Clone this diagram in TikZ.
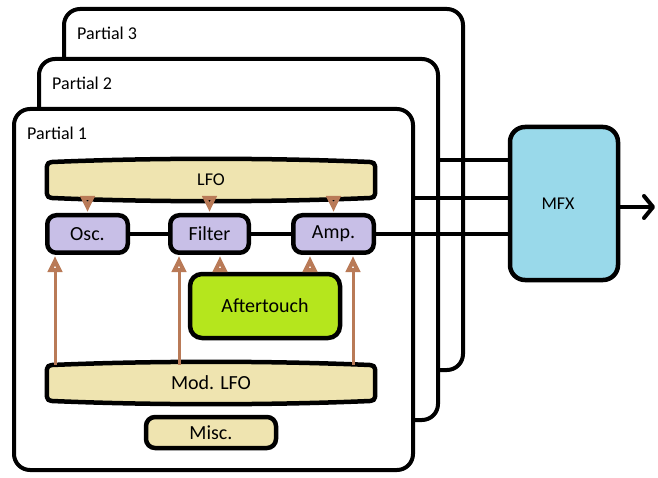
\documentclass[tikz,border=0pt]{standalone}
\usepackage{fontspec}
\setmainfont{Carlito}
\usetikzlibrary{arrows.meta,calc}
\definecolor{tanfill}{HTML}{EFE4B0}
\definecolor{lav}{HTML}{C8BFE7}
\definecolor{limefill}{HTML}{B5E61D}
\definecolor{bluefill}{HTML}{99D9EA}
\definecolor{brn}{HTML}{B97A57}
\pgfdeclarelayer{back}\pgfdeclarelayer{mid}\pgfsetlayers{back,mid,main}
\newcommand\barrelshape[1]{%
  \filldraw[barrelsty]
    ($(#1.north west)+(0,8)$) .. controls ($(#1.north west)+(0,1)$) and ($(#1.north west)+(1,0)$) .. ($(#1.north west)+(10,0)$)
    .. controls ($(#1.north west)!0.33!(#1.north east)+(0,-4)$) and ($(#1.north west)!0.67!(#1.north east)+(0,-4)$) .. ($(#1.north east)+(-10,0)$)
    .. controls ($(#1.north east)+(-1,0)$) and ($(#1.north east)+(0,1)$) .. ($(#1.north east)+(0,8)$)
    -- ($(#1.south east)+(0,-8)$)
    .. controls ($(#1.south east)+(0,-1)$) and ($(#1.south east)+(-1,0)$) .. ($(#1.south east)+(-10,0)$)
    .. controls ($(#1.south west)!0.67!(#1.south east)+(0,4)$) and ($(#1.south west)!0.33!(#1.south east)+(0,4)$) .. ($(#1.south west)+(10,0)$)
    .. controls ($(#1.south west)+(1,0)$) and ($(#1.south west)+(0,-1)$) .. ($(#1.south west)+(0,-8)$)
    -- cycle;}
\tikzset{
  partial/.style={draw, line width=4pt, rounded corners=16pt, fill=white, inner sep=0},
  plabel/.style={anchor=west, inner sep=0, font=\fontsize{18}{22}\selectfont},
  module/.style={draw, line width=4.5pt, rounded corners=9pt, fill=lav, minimum height=37.5pt,
    font=\fontsize{20}{24}\selectfont, inner sep=0},
  barrelbox/.style={minimum height=36pt, minimum width=328pt, inner sep=0},
  barrelsty/.style={draw, line width=4.5pt, fill=tanfill},
  modarrow/.style={draw=brn, line width=3pt, shorten >=1pt, -{Triangle[open, length=16pt, width=14pt, line width=4pt]}},
  wire/.style={draw, line width=4pt},
}
\begin{document}
\begin{tikzpicture}[x=1pt,y=-1pt]
\useasboundingbox (0,0) rectangle (658,478);
% partial frames
\begin{pgfonlayer}{back}
\node[partial, minimum width=399pt, minimum height=361pt] (part3) at (263.5,189.5) {};
\node[partial, minimum width=399pt, minimum height=361pt] (part2) at (238.5,239.5) {};
\node[partial, minimum width=399pt, minimum height=361pt] (part1) at (213.5,289.5) {};
\end{pgfonlayer}
\node[plabel] (l3) at (77,33) {Partial 3};
\node[plabel] (l2) at (52,83) {Partial 2};
\node[plabel] (l1) at (27,133) {Partial 1};
% barrels
\node[barrelbox, font=\fontsize{18}{22}\selectfont] (lfo) at (211,180) {LFO};
\node[barrelbox, font=\fontsize{20}{24}\selectfont] (modlfo) at (211,383) {Mod. LFO};
\begin{pgfonlayer}{mid}
\barrelshape{lfo}
\barrelshape{modlfo}
\end{pgfonlayer}
% modules
\node[module, minimum width=80.5pt] (osc) at (87.5,234) {Osc.};
\node[module, minimum width=78.5pt] (filter) at (209.5,234) {Filter};
\node[module, minimum width=80.5pt] (amp) at (333.5,234) {Amp.};
\node[module, fill=limefill, minimum width=150pt, minimum height=64pt, rounded corners=12pt] (after) at (265,306) {Aftertouch};
\node[module, fill=tanfill, minimum width=130pt, minimum height=31pt] (misc) at (211,432.5) {Misc.};
\node[module, fill=bluefill, minimum width=108pt, minimum height=153pt, rounded corners=15pt,
  font=\fontsize{18}{22}\selectfont] (mfx) at (564,203.5) {\hspace*{-12pt}MFX};
% signal wires
\draw[wire] (osc) -- (filter);
\draw[wire] (filter) -- (amp);
\draw[wire] (amp.east) -- (amp.east -| mfx.west);
\coordinate (t3) at (438,160);
\coordinate (t2) at (413,198);
\draw[wire] (t3) -- (t3 -| mfx.west);
\draw[wire] (t2) -- (t2 -| mfx.west);
\coordinate (out) at (655,207);
\draw[wire, line cap=round, -{Straight Barb[length=9pt, width=22pt, round]}] (mfx.east |- out) -- (out);
% modulation arrows
\draw[modarrow] (lfo.south -| osc.north) -- (osc.north);
\draw[modarrow] (lfo.south -| filter.north) -- (filter.north);
\draw[modarrow] (lfo.south -| amp.north) -- (amp.north);
\draw[modarrow] (55,0 |- modlfo.north) -- (55,0 |- osc.south);
\draw[modarrow] (179,0 |- modlfo.north) -- (179,0 |- filter.south);
\draw[modarrow] (220,0 |- after.north) -- (220,0 |- filter.south);
\draw[modarrow] (310,0 |- after.north) -- (310,0 |- amp.south);
\draw[modarrow] (353,0 |- modlfo.north) -- (353,0 |- amp.south);
\end{tikzpicture}
\end{document}
